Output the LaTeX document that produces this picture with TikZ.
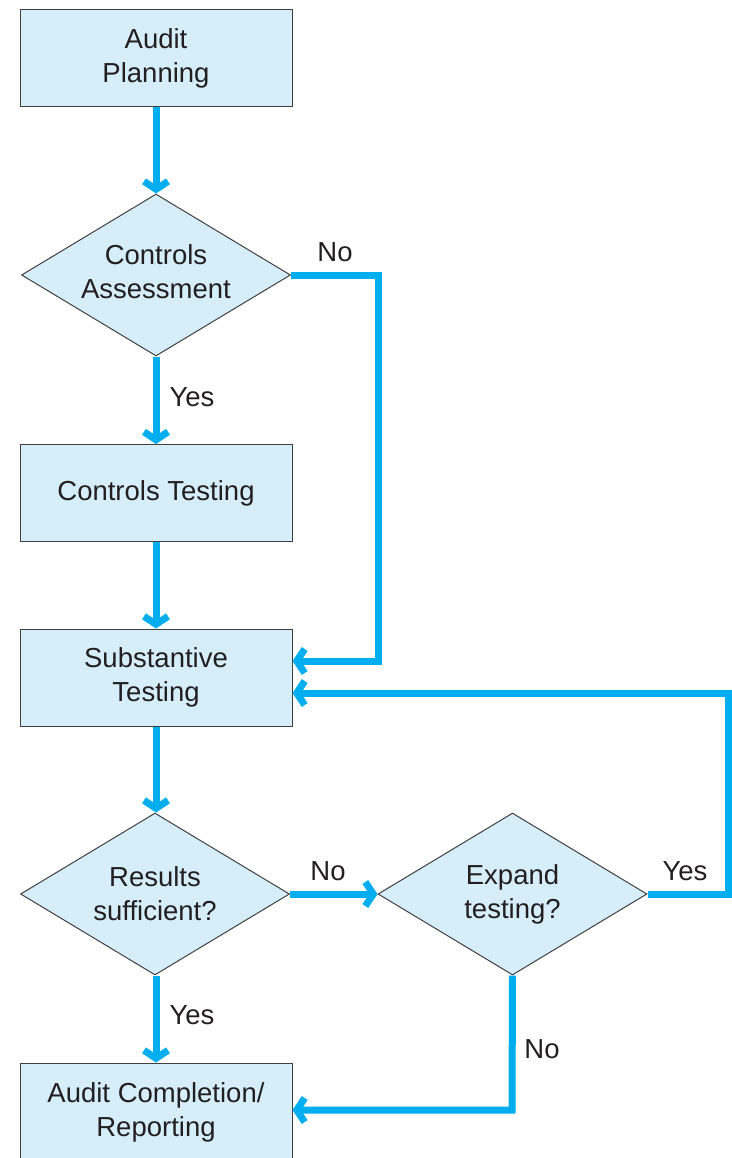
\documentclass[tikz,border=0pt]{standalone}
\usepackage{fontspec}
\setmainfont{Liberation Sans}
\usetikzlibrary{arrows.meta,shapes.geometric}
\definecolor{flowblue}{HTML}{00AEEF}
\definecolor{boxfill}{HTML}{D6EEFA}
\definecolor{boxline}{HTML}{404040}
\definecolor{txt}{HTML}{231F20}
\tikzset{
  stepbox/.style={draw=boxline, line width=1pt, fill=boxfill, minimum width=272pt, minimum height=97pt, inner sep=0pt, align=center, font=\fontsize{27.5}{34}\selectfont, text=txt},
  decision/.style={draw=boxline, line width=1pt, fill=boxfill, diamond, minimum width=269pt, minimum height=162pt, inner sep=0pt},
  dtext/.style={align=center, font=\fontsize{27.5}{34}\selectfont, text=txt, inner sep=0pt},
  flow/.style={draw=flowblue, line width=7pt, -{Straight Barb[length=8pt,width=24pt]}},
  lbl/.style={font=\fontsize{27.5}{34}\selectfont, text=txt, inner sep=0pt}
}
\begin{document}
\begin{tikzpicture}[x=1pt,y=-1pt]
\useasboundingbox (0,0) rectangle (731,1158);
\node[stepbox] (plan) at (156,58.5) {Audit\\Planning};
\node[decision] (assess) at (156,275) {};
\node[dtext] (assesstxt) at (156,272) {Controls\\Assessment};
\node[stepbox] (ctest) at (156,493) {Controls Testing};
\node[stepbox] (subst) at (156,677.5) {Substantive\\Testing};
\node[decision] (suff) at (155,894) {};
\node[dtext] (sufftxt) at (155,894) {Results\\sufficient?};
\node[decision] (expand) at (512.5,894) {};
\node[dtext] (expandtxt) at (512.5,894) {Expand\\testing?};
\node[stepbox, minimum height=110pt] (report) at (156,1118) {};
\node[dtext] (reporttxt) at (156,1112) {Audit Completion/\\Reporting};

\coordinate (c1) at (378,275);
\coordinate (c2) at (378,661);
\coordinate (c3) at (728,894);
\coordinate (c4) at (728,693);
\coordinate (c5) at (512,1110);

\draw[flow] (plan.south) -- (assess.north);
\draw[flow] (assess.south) -- (ctest.north);
\draw[flow] (ctest.south) -- (subst.north);
\draw[flow] (subst.south) -- (suff.north -| subst.south);
\draw[flow] (suff.south -| report.north) -- (report.north);
\draw[flow] (assess.east) -- (c1) -- (c2) -- (subst.east |- c2);
\draw[flow] (suff.east) -- (expand.west);
\draw[flow] (expand.east) -- (c3) -- (c4) -- (subst.east |- c4);
\draw[flow] (expand.south) -- (c5) -- (report.east |- c5);

\node[lbl] (lno1) at (335,252) {No};
\node[lbl] (lyes1) at (192,397) {Yes};
\node[lbl] (lno2) at (328,871) {No};
\node[lbl] (lyes2) at (685,871) {Yes};
\node[lbl] (lyes3) at (192,1015) {Yes};
\node[lbl] (lno3) at (542,1049) {No};
\end{tikzpicture}
\end{document}
